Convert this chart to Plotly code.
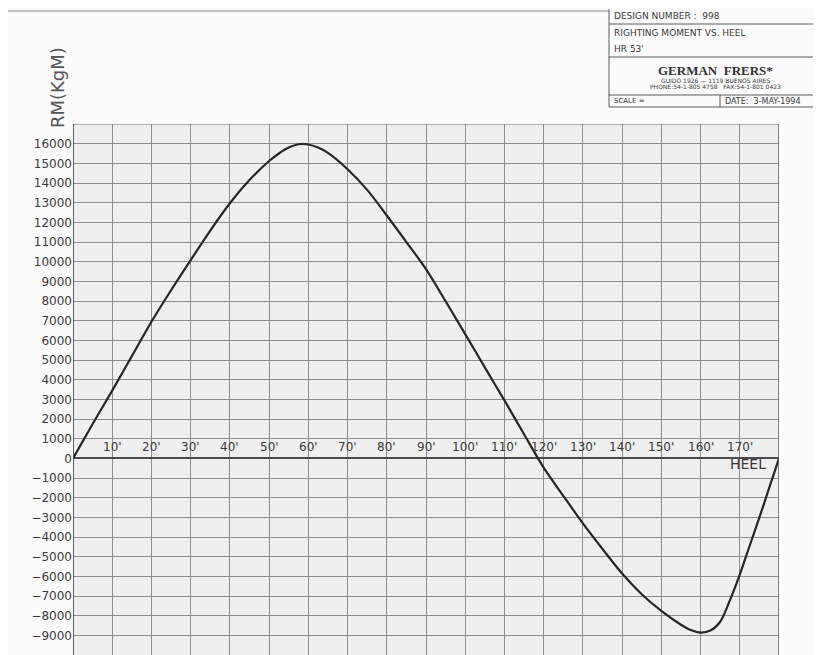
import plotly.graph_objects as go

# ---- data ----
heel_deg = [0, 5, 10, 15, 20, 25, 30, 35, 40, 45, 50, 52.5, 55, 57.5, 60, 62.5, 65, 70, 75,
            80, 85, 90, 95, 100, 105, 110, 115, 120, 125, 130, 135, 140, 145, 150, 155,
            157.5, 160, 162.5, 165, 167.5, 170, 172.5, 175, 177.5, 180]
rm_kgm = [0, 1750, 3450, 5200, 6950, 8550, 10080, 11580, 12970, 14150, 15120, 15500, 15800,
          15970, 15960, 15800, 15530, 14700, 13650, 12350, 11000, 9620, 7990, 6320, 4630,
          2950, 1230, -470, -1900, -3300, -4600, -5850, -6900, -7750, -8450, -8720, -8850,
          -8750, -8300, -7200, -5900, -4450, -3000, -1500, 0]

y_tick_vals = list(range(-9000, 17000, 1000))
y_tick_text = [str(v).replace("-", "\u2212") for v in y_tick_vals]
x_tick_vals = list(range(10, 180, 10))
x_tick_text = [f"{v}'" for v in x_tick_vals]

title_rows = ["DESIGN NUMBER :  998", "RIGHTING MOMENT VS. HEEL", "HR 53'"]

# the page body adds an 8 px offset; build the figure so the screenshot lines up
OFF = 8
W, H = 821 - OFF, 655 - OFF
L, R, T, B = 65, 42, 116, 0
PW, PH = W - L - R, H - T - B


def px(x):
    return (x - OFF - L) / PW


def py(y):
    return (H - B - (y - OFF)) / PH


fig = go.Figure()
fig.add_trace(go.Scatter(
    x=heel_deg, y=rm_kgm, mode="lines",
    line=dict(color="#262626", width=2.2, shape="spline", smoothing=0.9),
    hoverinfo="skip", showlegend=False))

grid_col = "#8e8e8e"
fig.update_layout(
    width=W, height=H,
    margin=dict(l=L, r=R, t=T, b=B, autoexpand=False),
    paper_bgcolor="#fbfbfb",
    plot_bgcolor="#efefef",
    font=dict(family="DejaVu Sans", color="#3a3a3a"),
    xaxis=dict(range=[0, 180], tickvals=x_tick_vals, showticklabels=False,
               showgrid=True, gridcolor=grid_col, gridwidth=1, zeroline=False,
               ticks="", showline=False, fixedrange=True),
    yaxis=dict(range=[-9990, 17000], tickvals=y_tick_vals, ticktext=y_tick_text,
               showgrid=True, gridcolor=grid_col, gridwidth=1, zeroline=True,
               zerolinecolor="#4a4a4a", zerolinewidth=2, ticks="",
               tickfont=dict(size=12, color="#3a3a3a"), showline=False,
               fixedrange=True),
)

shapes = []
# plot frame
shapes.append(dict(type="line", xref="x", yref="y", x0=0, x1=180, y0=17000, y1=17000,
                   line=dict(color="#6e6e6e", width=1.2)))
shapes.append(dict(type="line", xref="x", yref="y", x0=0, x1=0, y0=-9990, y1=17000,
                   line=dict(color="#3c3c3c", width=1.6)))
shapes.append(dict(type="line", xref="x", yref="y", x0=180, x1=180, y0=-9990, y1=17000,
                   line=dict(color="#555555", width=1.4)))
# sheet border at top
shapes.append(dict(type="line", xref="paper", yref="paper", x0=px(8), x1=px(609),
                   y0=py(11), y1=py(11), line=dict(color="#8a8a8a", width=1.2)))
# title block
box_col = "#5a5a5a"
shapes.append(dict(type="line", xref="paper", yref="paper", x0=px(609), x1=px(609),
                   y0=py(9), y1=py(107), line=dict(color=box_col, width=1)))
for yy in (24, 57, 95, 107):
    shapes.append(dict(type="line", xref="paper", yref="paper", x0=px(609), x1=px(821),
                       y0=py(yy), y1=py(yy), line=dict(color=box_col, width=1)))
shapes.append(dict(type="line", xref="paper", yref="paper", x0=px(720), x1=px(720),
                   y0=py(95), y1=py(107), line=dict(color=box_col, width=1)))
fig.update_layout(shapes=shapes)

ann = []
for xv, txt in zip(x_tick_vals, x_tick_text):
    ann.append(dict(x=xv, y=0, xref="x", yref="y", text=txt, showarrow=False,
                    xanchor="center", yanchor="bottom", yshift=2,
                    font=dict(size=12, color="#3a3a3a")))
ann.append(dict(x=px(768), y=py(464), xref="paper", yref="paper", text="HEEL",
                showarrow=False, xanchor="right", yanchor="middle",
                font=dict(size=14, color="#3a3a3a")))
ann.append(dict(x=px(58), y=py(88), xref="paper", yref="paper", text="RM(KgM)",
                showarrow=False, textangle=-90, xanchor="center", yanchor="middle",
                font=dict(size=18, color="#555555")))
# title block text
for yy, txt in zip((16, 33, 49), title_rows):
    ann.append(dict(x=px(612), y=py(yy), xref="paper", yref="paper", text=txt,
                    showarrow=False, xanchor="left", yanchor="middle",
                    font=dict(size=9, color="#3a3a3a")))
ann.append(dict(x=px(715), y=py(70), xref="paper", yref="paper",
                text="<b>GERMAN  FRERS*</b>", showarrow=False,
                xanchor="center", yanchor="middle",
                font=dict(family="Liberation Serif", size=13, color="#333333")))
ann.append(dict(x=px(715), y=py(80), xref="paper", yref="paper",
                text="GUIDO 1926 \u2014 1119 BUENOS AIRES", showarrow=False,
                xanchor="center", yanchor="middle",
                font=dict(size=6, color="#3a3a3a")))
ann.append(dict(x=px(715), y=py(86.5), xref="paper", yref="paper",
                text="PHONE:54-1-805 4758   FAX:54-1-801 0423", showarrow=False,
                xanchor="center", yanchor="middle",
                font=dict(size=6, color="#3a3a3a")))
ann.append(dict(x=px(612), y=py(101), xref="paper", yref="paper", text="SCALE =",
                showarrow=False, xanchor="left", yanchor="middle",
                font=dict(size=7, color="#3a3a3a")))
ann.append(dict(x=px(723), y=py(101), xref="paper", yref="paper",
                text="DATE:  3-MAY-1994", showarrow=False, xanchor="left",
                yanchor="middle", font=dict(size=8, color="#3a3a3a")))
fig.update_layout(annotations=ann)

fig.write_html("out.html")
